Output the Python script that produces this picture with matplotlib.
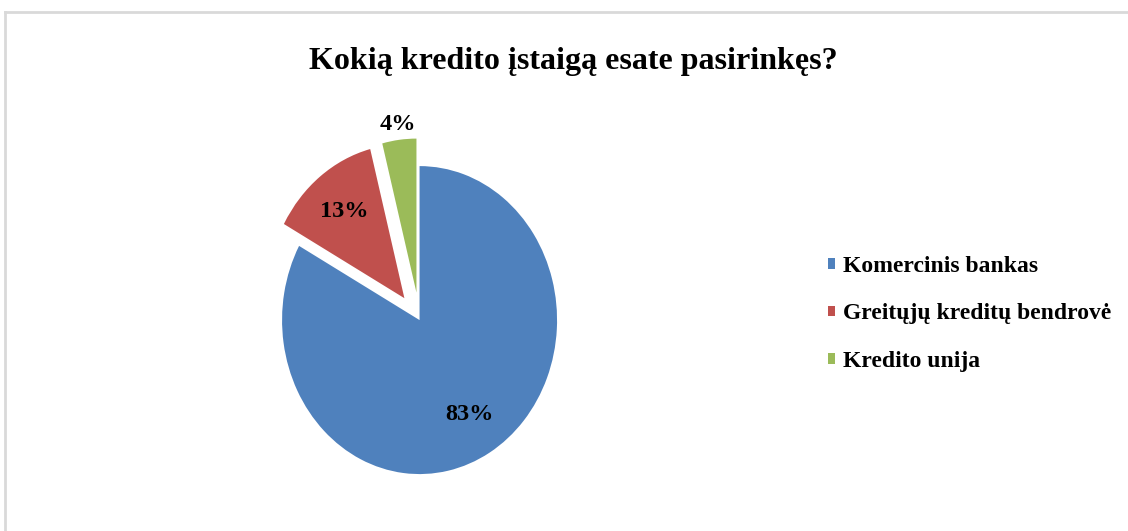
import matplotlib.pyplot as plt
from matplotlib.lines import Line2D

# --- Survey answers (share of respondents, %)
categories = ['Komercinis bankas', 'Greitųjų kreditų bendrovė', 'Kredito unija']
shares = [83, 13, 4]
colors = ['#4F81BD', '#C0504D', '#9BBB59']
explode = [0, 0.18, 0.18]
title = 'Kokią kredito įstaigą esate pasirinkęs?'

plt.rcParams['font.family'] = ['Liberation Serif', 'DejaVu Serif']

fig = plt.figure(figsize=(11.28, 5.31), dpi=100)

# thin grey frame around the chart area (left and top edges are visible)
fig.add_artist(Line2D([4.5 / 1128, 4.5 / 1128], [0, 1 - 11.5 / 531],
                      transform=fig.transFigure, color='#D9D9D9', lw=2))
fig.add_artist(Line2D([4.5 / 1128, 1], [1 - 11.5 / 531, 1 - 11.5 / 531],
                      transform=fig.transFigure, color='#D9D9D9', lw=2))

fig.text(0.508, 0.884, title, ha='center', va='center',
         fontsize=23, fontweight='bold')

# pie axes: no equal aspect, the pie is drawn slightly taller than wide
ax = fig.add_axes([0.1891, 0.0057, 0.3657, 0.812])
small = [f'{v}%' if v < 5 else '' for v in shares]
wedges, texts, autotexts = ax.pie(
    shares, colors=colors, explode=explode, startangle=90, counterclock=False,
    labels=small, labeldistance=1.1,
    autopct=lambda p: f'{p:.0f}%' if p >= 5 else '', pctdistance=0.71,
    wedgeprops=dict(linewidth=0),
    textprops=dict(fontsize=17.5, fontweight='bold'))
for t in texts + autotexts:
    t.set_ha('center')
    t.set_va('center')
    t.set_fontsize(17.5)
    t.set_fontweight('bold')
ax.set_aspect('auto')
ax.set_xlim(-1.5, 1.5)
ax.set_ylim(-1.35, 1.45)
ax.axis('off')

fig.legend(wedges, categories, loc='center left',
           bbox_to_anchor=(828 / 1128, 1 - 314 / 531),
           frameon=False, borderpad=0, borderaxespad=0,
           handlelength=0.3, handleheight=0.3, handletextpad=0.35,
           labelspacing=1.13,
           prop=dict(family=['Liberation Serif'], weight='bold', size=17))

fig.savefig('out.png', dpi=100)
